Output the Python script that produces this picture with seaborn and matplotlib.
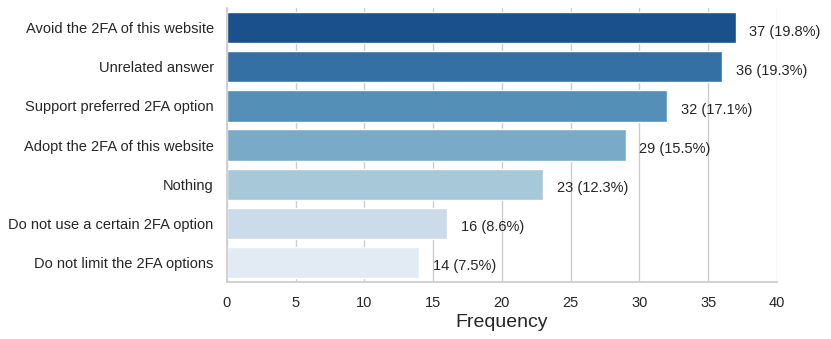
import matplotlib
matplotlib.use("Agg")
import matplotlib.pyplot as plt
import seaborn as sns
import pandas as pd

categories = [
    "Avoid the 2FA of this website",
    "Unrelated answer",
    "Support preferred 2FA option",
    "Adopt the 2FA of this website",
    "Nothing",
    "Do not use a certain 2FA option",
    "Do not limit the 2FA options",
]
counts = [37, 36, 32, 29, 23, 16, 14]
x_ticks = [0, 5, 10, 15, 20, 25, 30, 35, 40]

df = pd.DataFrame({"category": categories, "count": counts})
total = sum(counts)

sns.set_theme(style="whitegrid")
plt.rcParams["font.family"] = ["Liberation Sans", "DejaVu Sans"]
fig, ax = plt.subplots(figsize=(8.31, 3.39), dpi=100)
fig.subplots_adjust(left=0.273, right=0.935, top=0.976, bottom=0.168)

sns.barplot(data=df, x="count", y="category", hue="category",
            palette="Blues_r", legend=False, ax=ax)

for i, c in enumerate(counts):
    ax.text(c + 1, i + 0.1, f"{c} ({c / total * 100:.1f}%)",
            va="center", ha="left", fontsize=10.5, color="#262626")

ax.set_xlim(0, 40)
ax.set_xticks(x_ticks)
ax.set_xlabel("Frequency", fontsize=14, labelpad=3)
ax.set_ylabel("")
ax.tick_params(axis="both", labelsize=10.5)
ax.tick_params(axis="x", pad=4)
ax.grid(axis="y", visible=False)
sns.despine(ax=ax, top=True, right=True)

fig.savefig("out.png", dpi=100)
